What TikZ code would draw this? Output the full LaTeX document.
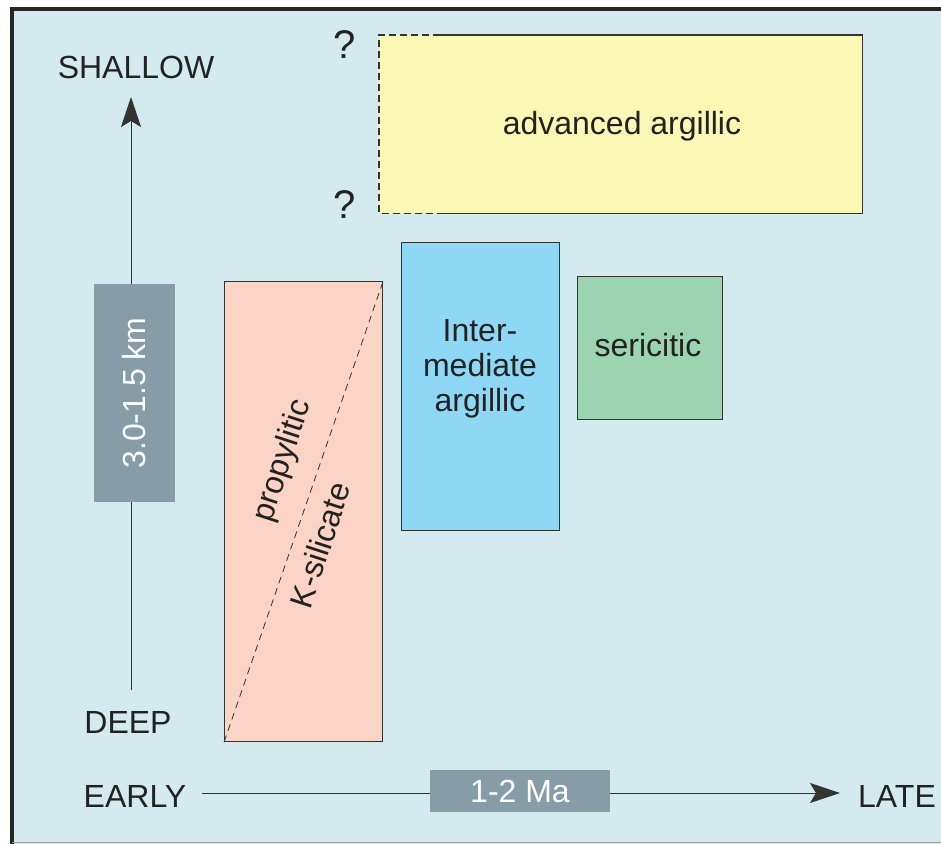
\documentclass[tikz,border=0pt]{standalone}
\usepackage{fontspec}
\setmainfont{Liberation Sans}
\usetikzlibrary{arrows.meta,calc}
\definecolor{bgblue}{HTML}{D3EAEE}
\definecolor{greybox}{HTML}{869CA6}
\definecolor{advyel}{HTML}{FBF7B5}
\definecolor{kpink}{HTML}{FBD4C5}
\definecolor{intblue}{HTML}{8ED8F6}
\definecolor{sergreen}{HTML}{9CD3B0}
\definecolor{edge}{HTML}{333333}
\definecolor{txt}{HTML}{222222}
\begin{document}
\begin{tikzpicture}[x=1pt,y=-1pt,
  lbl/.style={font=\fontsize{32}{36}\selectfont, text=txt, inner sep=0pt},
  wlbl/.style={font=\fontsize{32}{36}\selectfont, text=white, inner sep=0pt},
  qmark/.style={font=\fontsize{40}{44}\selectfont, text=txt, inner sep=0pt},
  zone/.style={draw=edge, line width=1.2pt, inner sep=0pt, anchor=north west},
  scalebox/.style={fill=greybox, inner sep=0pt},
  axis/.style={line width=0.9pt, draw=edge, -{Stealth[length=30pt,width=20pt,inset=6pt]}},
  ]
\useasboundingbox (0,0) rectangle (941,844);
% background panel
\fill[bgblue] (12,9) rectangle (941,844);
\draw[black!85, line width=4pt] (12,844) -- (12,9) -- (941,9);
\draw[black!40, line width=1.5pt] (12,842.5) -- (941,842.5);

% axes
\coordinate (vbot) at (131,690);
\coordinate (vtop) at (131,97);
\coordinate (hl) at (202,793);
\coordinate (hr) at (840,793);
\draw[axis] (vbot) -- (vtop);
\draw[axis] (hl) -- (hr);

\node[scalebox, minimum width=81pt, minimum height=218pt] (km) at (134.5,393) {};
\node[wlbl, rotate=90] (kmt) at (km.center) {3.0-1.5 km};
\node[scalebox, minimum width=180pt, minimum height=42pt] (ma) at (520,791) {};
\node[wlbl] (mat) at (ma.center) {1-2 Ma};

\node[lbl] (shallow) at (136,67) {SHALLOW};
\node[lbl] (deep) at (128,722) {DEEP};
\node[lbl] (early) at (135,796) {EARLY};
\node[lbl] (late) at (897,796) {LATE};

% advanced argillic
\node[fill=advyel, inner sep=0pt, anchor=north west, minimum width=483pt, minimum height=178pt] (adv) at (379,35) {};
\draw[edge, line width=1.2pt] ($(adv.north west)+(61,0)$) -- (adv.north east) -- (adv.south east) -- ($(adv.south west)+(61,0)$);
\draw[edge, line width=1.2pt, dash pattern=on 7pt off 4pt] ($(adv.north west)+(61,0)$) -- (adv.north west) -- (adv.south west) -- ($(adv.south west)+(61,0)$);
\node[lbl] (advt) at (622,126) {advanced argillic};
\node[qmark] (q1) at (345,45) {?};
\node[qmark] (q2) at (345,205) {?};

% K-silicate / propylitic
\node[zone, fill=kpink, minimum width=158pt, minimum height=460pt] (ks) at (224,281) {};
\draw[edge, line width=0.8pt, dash pattern=on 7pt off 5pt] (ks.south west) -- (ks.north east);
\node[lbl, rotate=72] (prop) at (283,461) {propylitic};
\node[lbl, rotate=72] (ksil) at (320,545) {K-silicate};

% intermediate argillic
\node[zone, fill=intblue, minimum width=158pt, minimum height=288pt] (ia) at (401,242) {};
\node[lbl, align=center, font=\fontsize{32}{35}\selectfont] (iat) at (480,369) {Inter-\\mediate\\argillic};

% sericitic
\node[zone, fill=sergreen, minimum width=145pt, minimum height=143pt] (ser) at (577,276) {};
\node[lbl] (sert) at (648,345) {sericitic};
\end{tikzpicture}
\end{document}
